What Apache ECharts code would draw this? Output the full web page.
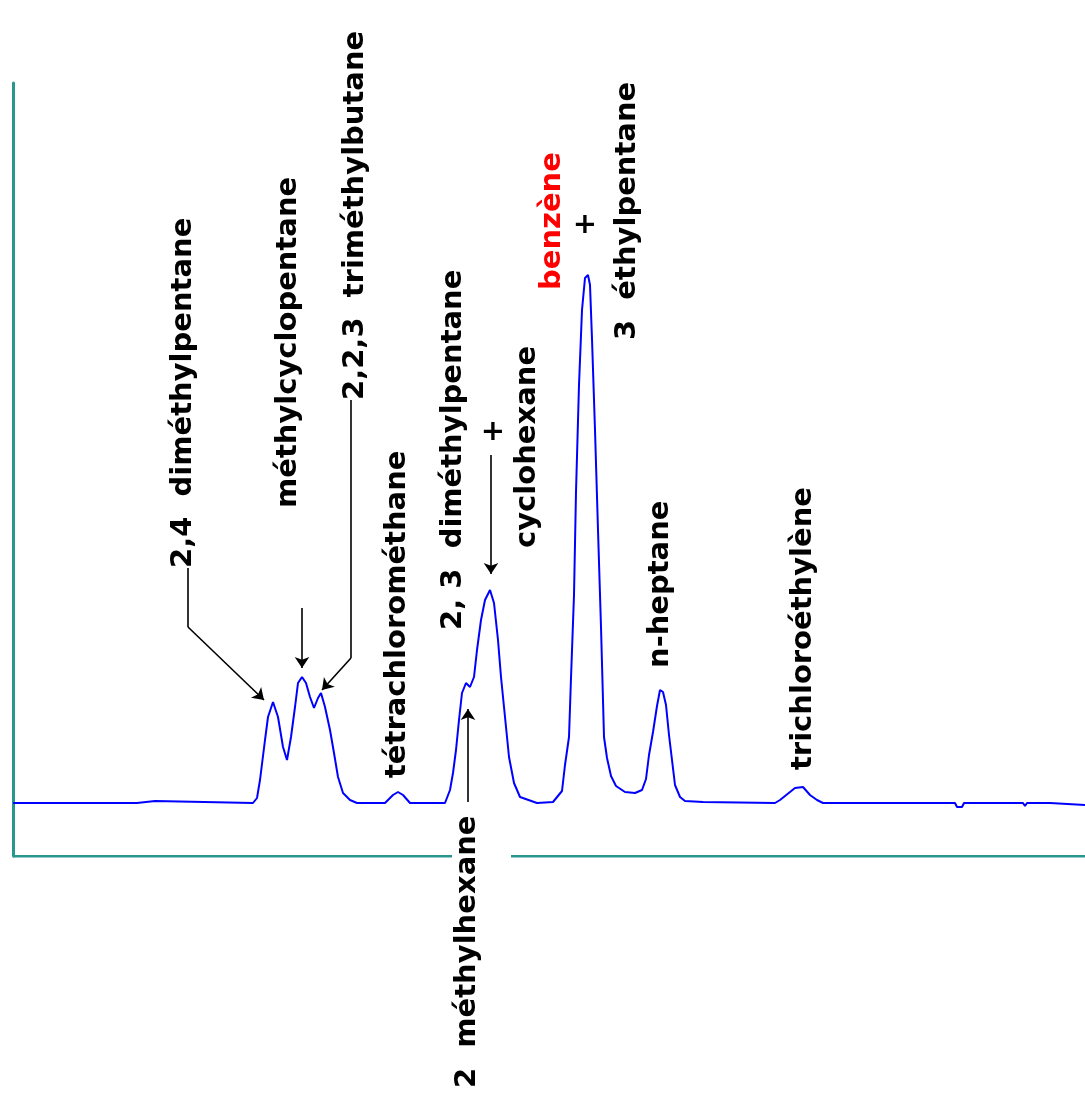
<!DOCTYPE html>
<html>
<head>
<meta charset="utf-8">
<script src="https://cdn.jsdelivr.net/npm/echarts@6/dist/echarts.min.js"></script>
<style>
html,body{margin:0;padding:0;background:#fff;}
#c{width:1085px;height:1093px;}
</style>
</head>
<body>
<div id="c"></div>
<script>
// Chromatogram trace (arbitrary units: retention, detector signal)
const retention = [0,124,125,142,143,240,244,247,252,255,260,265,270,274,278,282,285,289,293,297,301,305,308,312,317,321,325,330,337,344,372,380,385,390,397,432,437,440,443,446,449,453,457,461,464,468,472,477,481,485,488,492,496,501,507,524,540,549,552,556,558,561,563,566,569,572,575,577,579,582,585,588,591,594,598,603,612,622,629,633,636,640,644,647,650,653,656,659,662,667,672,690,691,762,767,777,782,790,797,804,810,942,944,949,951,1010,1012,1014,1037,1038,1072];
const signal = [53,53,55,55,53,53,58,76,116,139,154,139,109,96,119,149,173,179,173,159,148,158,163,149,126,103,79,63,56,53,53,61,64,61,53,53,66,83,106,136,163,173,169,179,206,236,256,266,253,216,179,139,99,73,59,53,54,65,91,119,178,261,364,471,546,578,581,571,517,426,326,229,119,98,80,70,64,63,66,77,101,124,150,166,164,151,121,96,71,59,55,54,53,53,56,64,68,69,61,56,53,53,49,49,53,53,50,53,53,51,51];

// Peak names
const peakNames = [
  "2,4  diméthylpentane",
  "méthylcyclopentane",
  "2,2,3  triméthylbutane",
  "tétrachlorométhane",
  "2, 3  diméthylpentane",
  "+",
  "cyclohexane",
  "benzène",
  "+",
  "3  éthylpentane",
  "n-heptane",
  "trichloroéthylène",
  "2  méthylhexane"
];

// Layout: label anchor (start of rotated text), in chart units
const labelAnchors = [
  [170, 288], [275, 348], [342, 456], [384, 78], [440, 226],
  [480, 424], [514, 308], [539, 566], [572, 631], [614, 516],
  [647, 188], [790, 86], [454, -232]
];
const labelCentered = [false,false,false,false,false,true,false,false,true,false,false,false,false];
const labelColors = ['#000','#000','#000','#000','#000','#000','#000','#ff0000','#000','#000','#000','#000','#000'];

// Layout: leader lines (plain parts, then parts ending with an arrow head)
const leaderPlain = [
  [[175, 288], [175, 229]],
  [[338, 456], [338, 198]]
];
const leaderArrows = [
  [[175, 229], [251, 156]],
  [[289, 248], [289, 188]],
  [[338, 198], [309, 166]],
  [[478, 401], [478, 282]],
  [[455, 54], [455, 147]]
];
// Layout: x axis drawn in two pieces, broken under the lower label
const xAxisPieces = [
  [[0, 0], [439, 0]],
  [[498, 0], [1072, 0]]
];

const trace = retention.map((t, i) => [t, signal[i]]);
const axisColor = '#2a9690';
const font = 'DejaVu Sans';

const labelData = peakNames.map((name, i) => ({
  value: labelAnchors[i],
  name: name,
  label: {
    show: true,
    formatter: name,
    position: 'inside',
    rotate: labelCentered[i] ? 0 : 90,
    align: labelCentered[i] ? 'center' : 'left',
    verticalAlign: 'middle',
    color: labelColors[i],
    opacity: 1,
    fontFamily: font,
    fontWeight: 'bold',
    fontSize: 29
  }
}));

const chart = echarts.init(document.getElementById('c'), null, {renderer: 'canvas'});
chart.setOption({
  animation: false,
  backgroundColor: '#fff',
  grid: {left: 13, right: 0, top: 83, bottom: 237, containLabel: false},
  xAxis: {
    type: 'value', min: 0, max: 1072,
    axisLine: {show: false},
    axisTick: {show: false}, axisLabel: {show: false}, splitLine: {show: false}
  },
  yAxis: {
    type: 'value', min: 0, max: 773,
    axisLine: {show: true, lineStyle: {color: axisColor, width: 3}},
    axisTick: {show: false}, axisLabel: {show: false}, splitLine: {show: false}
  },
  series: [
    {
      type: 'lines',
      coordinateSystem: 'cartesian2d',
      symbol: ['none', 'none'],
      lineStyle: {color: axisColor, width: 3, opacity: 1},
      data: xAxisPieces.map(c => ({coords: c})),
      silent: true,
      z: 1
    },
    {
      type: 'line',
      data: trace,
      symbol: 'none',
      smooth: false,
      lineStyle: {color: '#0000ff', width: 2},
      z: 3
    },
    {
      type: 'lines',
      coordinateSystem: 'cartesian2d',
      symbol: ['none', 'none'],
      lineStyle: {color: '#000', width: 1.6, opacity: 1},
      data: leaderPlain.map(c => ({coords: c})),
      silent: true,
      z: 4
    },
    {
      type: 'lines',
      coordinateSystem: 'cartesian2d',
      symbol: ['none', 'arrow'],
      symbolSize: 11,
      lineStyle: {color: '#000', width: 1.6, opacity: 1},
      data: leaderArrows.map(c => ({coords: c})),
      silent: true,
      z: 4
    },
    {
      type: 'scatter',
      data: labelData,
      symbolSize: 0.1,
      itemStyle: {color: 'transparent', opacity: 1},
      clip: false,
      silent: true,
      z: 10
    }
  ]
});
</script>
</body>
</html>
